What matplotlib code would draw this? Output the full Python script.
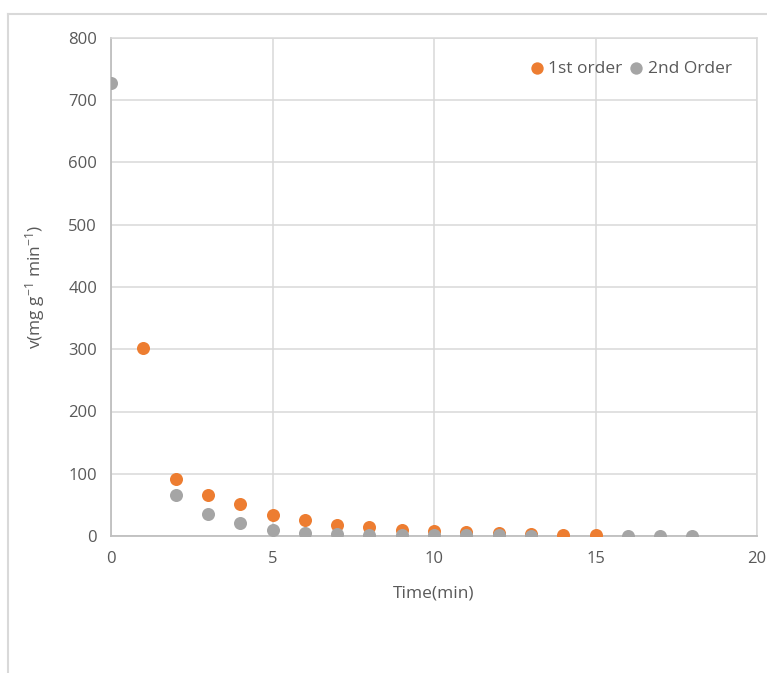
import numpy as np
import matplotlib
matplotlib.use("Agg")
import matplotlib.pyplot as plt
from matplotlib.lines import Line2D

time_min = [0, 1, 2, 3, 4, 5, 6, 7, 8, 9, 10, 11, 12, 13, 14, 15, 16, 17, 18]
first_order = [np.nan, 302, 91, 66, 52, 34, 25, 18, 14, 10, 8, 6, 5, 4, 1.5, 1.5,
               np.nan, np.nan, np.nan]
second_order = [728, np.nan, 66, 36, 21, 10, 5, 3, 2, 1.5, 1, 1, 1, 0.5, np.nan, np.nan,
                0.5, 0.5, 0.5]
x_ticks = [0, 5, 10, 15, 20]
y_ticks = [0, 100, 200, 300, 400, 500, 600, 700, 800]

ORANGE = "#ED7D31"
GREY = "#A5A5A5"
TEXT = "#595959"
GRID = "#D9D9D9"

plt.rcParams["font.family"] = ["Open Sans", "DejaVu Sans"]
plt.rcParams["mathtext.default"] = "regular"

fig = plt.figure(figsize=(7.67, 6.73), dpi=100)
fig.patch.set_facecolor("#ffffff")
ax = fig.add_axes([111 / 767, 1 - 536 / 673, (757 - 111) / 767, (536 - 38) / 673])

ax.scatter(time_min, first_order, s=88, color=ORANGE, label="1st order", zorder=3,
           linewidths=0)
ax.scatter(time_min, second_order, s=88, color=GREY, label="2nd Order", zorder=4,
           linewidths=0)

ax.set_xlim(0, 20)
ax.set_ylim(0, 800)
ax.set_xticks(x_ticks)
ax.set_yticks(y_ticks)
ax.tick_params(length=0, labelsize=12, colors=TEXT)
ax.tick_params(axis="y", pad=10)
ax.tick_params(axis="x", pad=11)
ax.grid(True, color=GRID, linewidth=1.1)
ax.set_axisbelow(True)
for side in ["top", "right"]:
    ax.spines[side].set_color(GRID)
    ax.spines[side].set_linewidth(1.1)
for side in ["left", "bottom"]:
    ax.spines[side].set_color("#BFBFBF")
    ax.spines[side].set_linewidth(1.3)

ax.set_xlabel("Time(min)", fontsize=12.5, color=TEXT, labelpad=13)
ax.set_ylabel(r"v(mg g$^{-1}$ min$^{-1}$)", fontsize=12.5, color=TEXT, labelpad=15)

ax.legend(loc="upper right", bbox_to_anchor=(0.977, 0.975), ncols=2, frameon=False,
          fontsize=12.5, labelcolor=TEXT, handletextpad=0.15, columnspacing=0.3,
          markerscale=0.95, handlelength=1.0, borderaxespad=0.2)

# light chart-area frame (partly cropped in the reference)
fig.add_artist(Line2D([8 / 767, 8 / 767], [0, 1 - 14 / 673], color=GRID, linewidth=1.5))
fig.add_artist(Line2D([8 / 767, 1], [1 - 14 / 673, 1 - 14 / 673], color=GRID, linewidth=1.5))

fig.savefig("out.png", dpi=100, facecolor=fig.get_facecolor())
